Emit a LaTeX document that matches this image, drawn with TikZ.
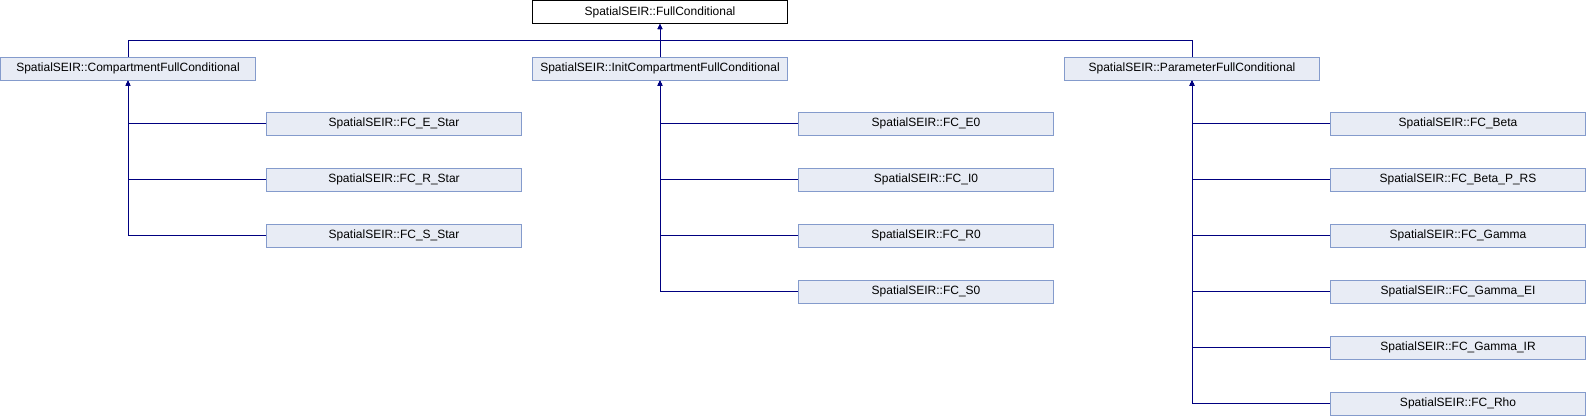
\documentclass[tikz,border=0pt]{standalone}
\usepackage{fontspec}
\setmainfont{Liberation Sans}
\usetikzlibrary{arrows.meta}
\definecolor{boxfill}{RGB}{232,236,245}
\definecolor{boxline}{RGB}{132,155,204}
\definecolor{linkblue}{RGB}{0,0,128}
\tikzset{
  cls/.style={draw=boxline, fill=boxfill, line width=1pt, minimum width=255pt,
    minimum height=23pt, inner sep=0pt, font=\fontsize{12}{14}\selectfont},
  inh/.style={draw=linkblue, line width=1pt, -{Triangle[length=5pt,width=4.5pt]}},
}

\begin{document}
\begin{tikzpicture}[x=1pt, y=1pt]
    \useasboundingbox (0,0) rectangle (1586,-416);

    \node[cls, draw=black, fill=white] (full) at (660,-12) {SpatialSEIR::FullConditional};
    \coordinate (bus) at (660,-40.5);

    \node[cls] (comp) at (128,-68.5) {SpatialSEIR::CompartmentFullConditional};
    \node[cls] (init) at (660,-68.5) {SpatialSEIR::InitCompartmentFullConditional};
    \node[cls] (param) at (1192,-68.5) {SpatialSEIR::ParameterFullConditional};

    \draw[inh] (comp.north) |- (bus) -- (full.south);
    \draw[inh] (init.north) -- (full.south);
    \draw[inh] (param.north) |- (bus) -- (full.south);

    % derived classes, one row every 56
    \foreach \lbl [count=\i] in {FC\_E\_Star, FC\_R\_Star, FC\_S\_Star} {
        \node[cls] (comp\i) at (394,{-123.5-56*(\i-1)}) {SpatialSEIR::\lbl};
        \draw[inh] (comp\i.west) -| (comp.south);
    }
    \foreach \lbl [count=\i] in {FC\_E0, FC\_I0, FC\_R0, FC\_S0} {
        \node[cls] (init\i) at (926,{-123.5-56*(\i-1)}) {SpatialSEIR::\lbl};
        \draw[inh] (init\i.west) -| (init.south);
    }
    \foreach \lbl [count=\i] in {FC\_Beta, FC\_Beta\_P\_RS, FC\_Gamma, FC\_Gamma\_EI, FC\_Gamma\_IR, FC\_Rho} {
        \node[cls] (param\i) at (1458,{-123.5-56*(\i-1)}) {SpatialSEIR::\lbl};
        \draw[inh] (param\i.west) -| (param.south);
    }
\end{tikzpicture}
\end{document}
